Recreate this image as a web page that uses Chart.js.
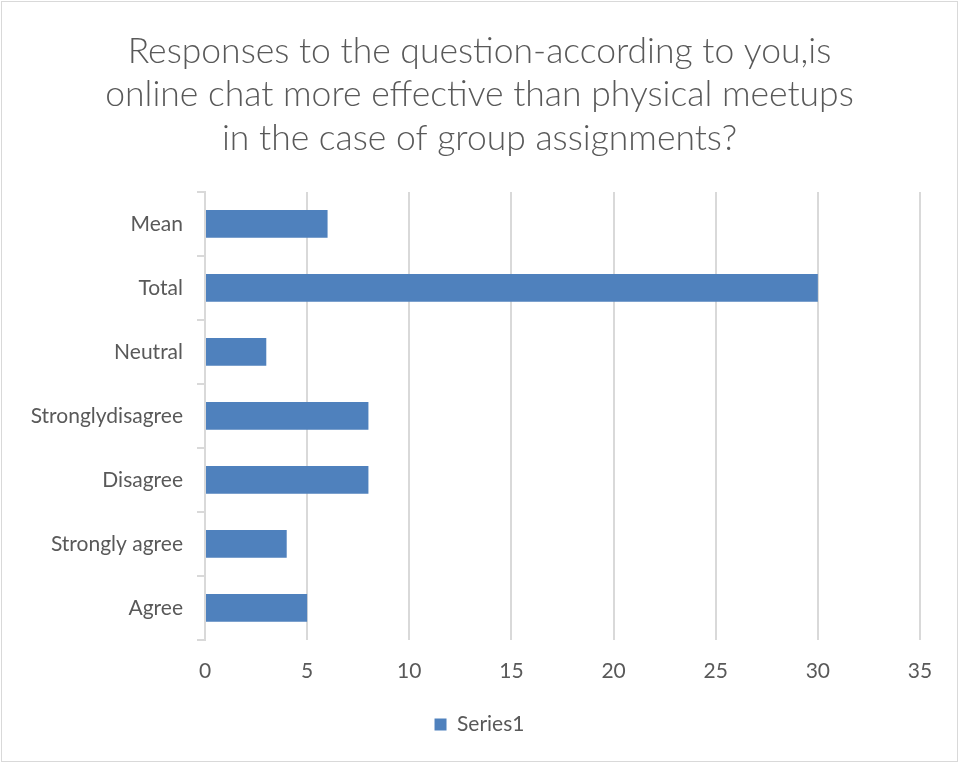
<!DOCTYPE html>
<html>
<head>
<meta charset="utf-8">
<script src="https://cdn.jsdelivr.net/npm/chart.js@4.4.1/dist/chart.umd.min.js"></script>
<style>
html,body{margin:0;padding:0;background:#fff;}
#wrap{position:absolute;left:1px;top:1px;width:957px;height:761px;border:1px solid #d9d9d9;box-sizing:border-box;}
canvas{display:block;}
</style>
</head>
<body>
<div id="wrap"><canvas id="c"></canvas></div>
<script>
const categories = ["Mean", "Total", "Neutral", "Stronglydisagree", "Disagree", "Strongly agree", "Agree"];
const values = [6, 30, 3, 8, 8, 4, 5];
const seriesName = "Series1";
const titleLines = ["Responses to the question-according to you,is", "online chat more effective than physical meetups", "in the case of group assignments?"];

const FONT = "Lato, 'Open Sans', sans-serif";
new Chart(document.getElementById('c'), {
  type: 'bar',
  data: {
    labels: categories,
    datasets: [{
      label: seriesName,
      data: values,
      backgroundColor: '#4F81BD',
      borderWidth: 0,
      barPercentage: 0.9,
      categoryPercentage: 0.48
    }]
  },
  options: {
    indexAxis: 'y',
    responsive: true,
    maintainAspectRatio: false,
    animation: false,
    layout: { padding: { left: 19, right: 19, top: 28, bottom: 16 } },
    plugins: {
      title: {
        display: true,
        text: titleLines,
        color: '#595959',
        font: { family: FONT, size: 35.5, weight: '300', lineHeight: 1.22 },
        padding: { top: 0, bottom: 32 }
      },
      legend: {
        position: 'bottom',
        labels: {
          color: '#595959',
          font: { family: FONT, size: 21 },
          boxWidth: 12, boxHeight: 12,
          padding: 11
        }
      },
      tooltip: { enabled: false }
    },
    scales: {
      x: {
        min: 0, max: 35,
        ticks: { stepSize: 5, color: '#595959', font: { family: FONT, size: 21 }, padding: 19 },
        grid: { color: '#d9d9d9', lineWidth: 2, drawTicks: false },
        border: { display: false }
      },
      y: {
        afterFit: (s) => { s.width = 184; },
        ticks: { color: '#595959', font: { family: FONT, size: 21 }, padding: 14 },
        grid: { offset: true, drawOnChartArea: false, drawTicks: true, tickLength: 8, color: '#d9d9d9', lineWidth: 2 },
        border: { display: true, color: '#d9d9d9', width: 2 }
      },
      y2: {
        type: 'linear',
        position: 'right',
        display: true,
        afterFit: (s) => { s.width = 18; },
        ticks: { display: false },
        grid: { display: false, drawTicks: false },
        border: { display: false }
      }
    }
  }
});
</script>
</body>
</html>
